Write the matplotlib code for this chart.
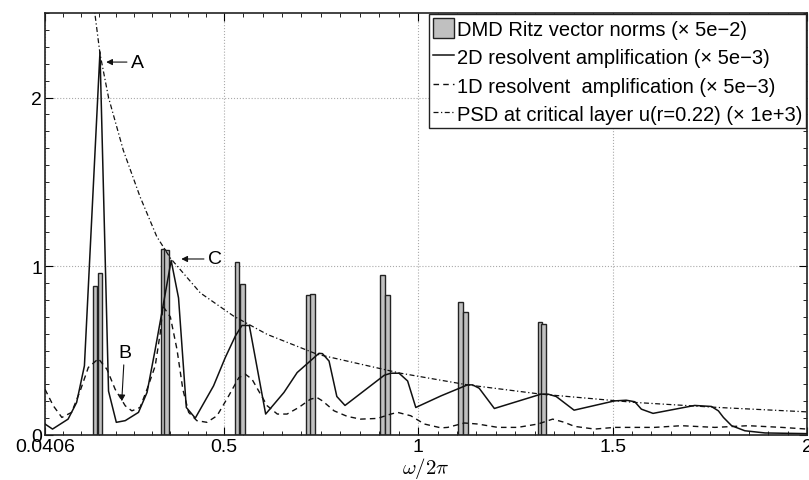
import numpy as np
import matplotlib.pyplot as plt
from matplotlib.ticker import MultipleLocator, FixedLocator

plt.rcParams['font.family'] = ['Liberation Sans', 'DejaVu Sans']
plt.rcParams['mathtext.fontset'] = 'cm'

# DMD Ritz vector norms (pairs of bars)
bar_x = [0.169, 0.182, 0.344, 0.353, 0.534, 0.548, 0.718, 0.729,
         0.908, 0.922, 1.109, 1.122, 1.313, 1.322]
bar_h = [0.885, 0.96, 1.10, 1.097, 1.027, 0.895, 0.830, 0.836,
         0.948, 0.828, 0.79, 0.728, 0.668, 0.659]

# 2D resolvent amplification
res2d_x = [0.0406, 0.060, 0.100, 0.122, 0.142, 0.182, 0.204, 0.224, 0.247,
           0.281, 0.303, 0.324, 0.344, 0.365, 0.384, 0.404, 0.427, 0.474,
           0.504, 0.530, 0.547, 0.566, 0.608, 0.655, 0.689, 0.745, 0.754,
           0.771, 0.791, 0.812, 0.913, 0.930, 0.951, 0.973, 0.994, 1.059,
           1.127, 1.140, 1.157, 1.196, 1.316, 1.334, 1.355, 1.401, 1.505,
           1.535, 1.557, 1.574, 1.604, 1.711, 1.754, 1.772, 1.785, 1.806,
           1.840, 1.892, 2.0]
res2d_y = [0.065, 0.035, 0.094, 0.193, 0.41, 2.27, 0.26, 0.075, 0.085,
           0.134, 0.252, 0.507, 0.763, 1.034, 0.812, 0.163, 0.10, 0.291,
           0.458, 0.586, 0.649, 0.649, 0.124, 0.252, 0.37, 0.484, 0.482,
           0.438, 0.228, 0.175, 0.354, 0.366, 0.366, 0.32, 0.163, 0.232,
           0.297, 0.297, 0.277, 0.157, 0.242, 0.242, 0.228, 0.147, 0.202,
           0.206, 0.197, 0.153, 0.128, 0.175, 0.169, 0.143, 0.104, 0.055,
           0.025, 0.012, 0.008]

# 1D resolvent amplification
res1d_x = [0.0406, 0.062, 0.084, 0.109, 0.131, 0.152, 0.178, 0.200, 0.221,
           0.247, 0.264, 0.285, 0.303, 0.324, 0.337, 0.344, 0.363, 0.380,
           0.395, 0.410, 0.431, 0.457, 0.483, 0.513, 0.539, 0.556, 0.573,
           0.590, 0.612, 0.638, 0.663, 0.693, 0.723, 0.740, 0.754, 0.784,
           0.818, 0.852, 0.895, 0.930, 0.947, 0.981, 1.016, 1.059, 1.076,
           1.119, 1.153, 1.205, 1.256, 1.308, 1.346, 1.376, 1.402, 1.454,
           1.505, 1.608, 1.677, 1.763, 1.849, 1.935, 2.0]
res1d_y = [0.271, 0.173, 0.104, 0.134, 0.261, 0.40, 0.452, 0.389, 0.271,
           0.173, 0.143, 0.163, 0.271, 0.409, 0.606, 0.763, 0.699, 0.507,
           0.271, 0.134, 0.085, 0.075, 0.114, 0.232, 0.34, 0.36, 0.33,
           0.261, 0.173, 0.124, 0.124, 0.163, 0.212, 0.222, 0.202, 0.143,
           0.11, 0.094, 0.098, 0.124, 0.134, 0.114, 0.065, 0.042, 0.045,
           0.071, 0.065, 0.045, 0.045, 0.065, 0.094, 0.075, 0.051, 0.035,
           0.045, 0.045, 0.055, 0.045, 0.055, 0.045, 0.035]

# PSD at critical layer
psd_x = [0.166, 0.182, 0.204, 0.242, 0.285, 0.328, 0.363, 0.440, 0.526,
         0.612, 0.741, 0.955, 1.127, 1.316, 1.557, 1.772, 2.0]
psd_y = [2.55, 2.26, 2.0, 1.687, 1.412, 1.176, 1.048, 0.842, 0.704,
         0.596, 0.478, 0.366, 0.297, 0.242, 0.193, 0.163, 0.137]

fig = plt.figure(figsize=(8.09, 4.81), dpi=100)
ax = fig.add_axes([0.0556, 0.0936, 0.942, 0.877])

bars = ax.bar(bar_x, bar_h, width=0.012, color='#c0c0c0', edgecolor='#222222',
              linewidth=1.0, label='DMD Ritz vector norms (\u00d7 5e\u22122)', zorder=2)
l2d, = ax.plot(res2d_x, res2d_y, '-', color='#111111', lw=1.1,
               label='2D resolvent amplification (\u00d7 5e\u22123)', zorder=3)
l1d, = ax.plot(res1d_x, res1d_y, '--', color='#111111', lw=1.0, dashes=(4, 3),
               label='1D resolvent  amplification (\u00d7 5e\u22123)', zorder=3)
lpsd, = ax.plot(psd_x, psd_y, '-.', color='#111111', lw=0.9, dashes=(4, 2, 1, 2),
                label='PSD at critical layer u(r=0.22) (\u00d7 1e+3)', zorder=3)

ax.set_xlim(0.0406, 2)
ax.set_ylim(0, 2.5)
ax.xaxis.set_major_locator(FixedLocator([0.0406, 0.5, 1, 1.5, 2]))
ax.set_xticklabels(['0.0406', '0.5', '1', '1.5', '2'])
minor_x = list(np.linspace(0.0406, 0.5, 11)) + list(np.arange(0.55, 2.0, 0.05))
ax.xaxis.set_minor_locator(FixedLocator(minor_x))
ax.yaxis.set_major_locator(FixedLocator([0, 1, 2]))
ax.yaxis.set_minor_locator(MultipleLocator(0.1))
ax.tick_params(which='both', direction='in', top=True, right=True,
               labelsize=14, pad=2)
ax.tick_params(which='major', length=6, width=0.8)
ax.tick_params(which='minor', length=3, width=0.6)
ax.grid(True, which='major', linestyle=':', color='#aaaaaa', lw=0.8)
for s in ax.spines.values():
    s.set_linewidth(1.2)
    s.set_color('#222222')

ax.set_xlabel(r'$\omega/2\pi$', fontsize=15, labelpad=0)

arrow = dict(arrowstyle='-|>', color='#111111', lw=0.8,
             mutation_scale=9, shrinkA=1, shrinkB=0)
ax.annotate('A', xy=(0.198, 2.21), xytext=(0.262, 2.21), fontsize=14,
            va='center', ha='left', arrowprops=arrow)
ax.annotate('C', xy=(0.391, 1.043), xytext=(0.460, 1.043), fontsize=14,
            va='center', ha='left', arrowprops=arrow)
ax.annotate('B', xy=(0.238, 0.20), xytext=(0.245, 0.44), fontsize=14,
            va='bottom', ha='center', arrowprops=arrow)

leg = ax.legend(handles=[bars, l2d, l1d, lpsd], loc='upper right',
                fontsize=14.5, frameon=True, fancybox=False,
                framealpha=1, edgecolor='#222222', borderaxespad=0.05,
                handlelength=1.0, handleheight=1.1, handletextpad=0.15,
                borderpad=0.2, labelspacing=0.4)
leg.get_frame().set_linewidth(1.0)

fig.savefig('out.png', dpi=100)
